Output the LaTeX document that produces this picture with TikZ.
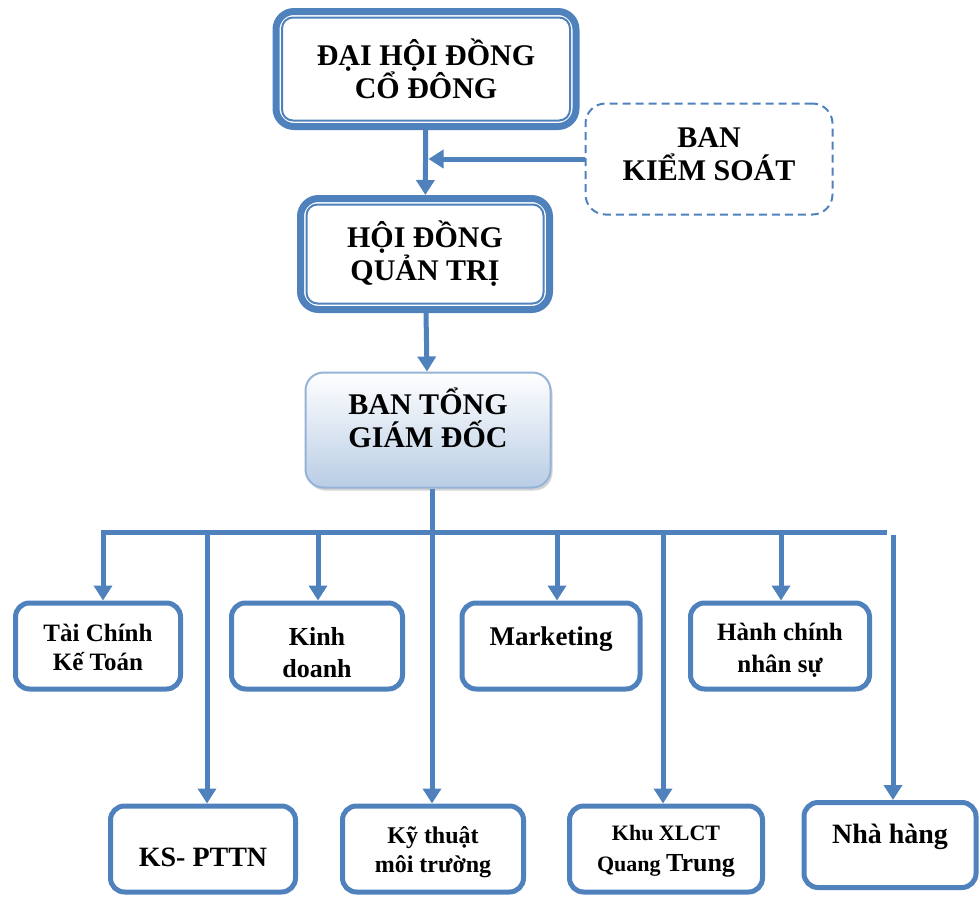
\documentclass[tikz,border=0pt]{standalone}
\usepackage{fontspec}
\setmainfont{Liberation Serif}
\usetikzlibrary{arrows.meta,positioning,shadows}
\definecolor{bline}{RGB}{79,129,189}
\definecolor{gfill}{RGB}{185,205,229}
\definecolor{gline}{RGB}{149,179,215}
\tikzset{
  board/.style={draw=bline, line width=7pt, rounded corners=18pt, align=center,
    font=\bfseries\fontsize{30}{33}\selectfont},
  innerline/.style={draw=bline, line width=2pt, rounded corners=11pt},
  unit/.style={draw=bline, line width=5pt, rounded corners=14pt, align=center,
    minimum height=86pt, font=\bfseries\fontsize{25}{30}\selectfont},
  link/.style={draw=bline, line width=5pt},
  arr/.style={link, -{Triangle[width=18pt,length=15pt]}},
}
\begin{document}
\begin{tikzpicture}[x=1pt,y=-1pt]
  \useasboundingbox (0,0) rectangle (980,897);
  % top of the chart
  \node[board, minimum width=300pt, minimum height=115pt] (dhd) at (426,69) {ĐẠI HỘI ĐỒNG\\CỔ ĐÔNG};
  \node[draw=bline, line width=2pt, dash pattern=on 8pt off 5pt, rounded corners=20pt,
    minimum width=247pt, minimum height=111pt, align=center, text depth=10pt,
    font=\bfseries\fontsize{30}{33}\selectfont] (bks) at (709,159) {BAN\\KIỂM SOÁT};
  \node[board, minimum width=249pt, minimum height=111pt] (hdqt) at (425,254) {HỘI ĐỒNG\\QUẢN TRỊ};
  \node[draw=gline, line width=2pt, rounded corners=18pt, top color=white, bottom color=gfill,
    drop shadow={shadow xshift=2pt, shadow yshift=-3pt, opacity=0.35},
    minimum width=245pt, minimum height=115pt, align=center, text depth=25pt,
    font=\bfseries\fontsize{30}{33}\selectfont] (btgd) at (428,430) {BAN TỔNG\\GIÁM ĐỐC};
  \draw[innerline] ([shift={(9.5pt,-9.5pt)}]dhd.north west) rectangle ([shift={(-9.5pt,9.5pt)}]dhd.south east);
  \draw[innerline] ([shift={(9.5pt,-9.5pt)}]hdqt.north west) rectangle ([shift={(-9.5pt,9.5pt)}]hdqt.south east);
  % departments
  \node[unit, minimum width=165pt, font=\bfseries\fontsize{25}{29}\selectfont, text height=50pt] (tck) at (98,646) {Tài Chính\\Kế Toán};
  \node[unit, minimum width=171pt, font=\bfseries\fontsize{26}{32}\selectfont, text height=64pt] (kd) at (317,646) {Kinh\\doanh};
  \node[unit, minimum width=178pt, font=\bfseries\fontsize{27}{30}\selectfont, text depth=20pt] (mkt) at (551,646) {Marketing};
  \node[unit, minimum width=179pt, font=\bfseries\fontsize{25}{32}\selectfont, text height=57pt] (hcns) at (780,646) {Hành chính\\nhân sự};
  \node[unit, minimum width=185pt, font=\bfseries\fontsize{28}{30}\selectfont, text height=36pt] (ks) at (203,849) {KS- PTTN};
  \node[unit, minimum width=181pt, font=\bfseries\fontsize{24}{29}\selectfont, text height=52pt] (ktmt) at (433,849) {Kỹ thuật\\môi trường};
  \node[unit, minimum width=193pt, font=\bfseries\fontsize{22}{31}\selectfont, text height=51pt] (khu) at (666,849) {Khu XLCT\\Quang {\fontsize{26}{31}\selectfont Trung}};
  \node[unit, minimum width=172pt, minimum height=85pt, font=\bfseries\fontsize{28}{30}\selectfont, text depth=22pt] (nh) at (890,845) {Nhà hàng};
  % connectors
  \coordinate (jbks) at (dhd.south |- bks.west);
  \coordinate (bus) at (432,532);
  \coordinate (busr) at (884,532);
  \coordinate (nhs) at (893,535);
  \draw[arr] (dhd) -- (hdqt);
  \draw[arr, shorten >=2.5pt] (bks) -- (jbks);
  \draw[arr] (hdqt) -- (btgd);
  \draw[link] (bus |- btgd.south) -- (bus);
  \draw[link, line cap=rect] ([xshift=5pt]tck.north |- bus) -- (busr);
  \foreach \u/\dx in {tck/5,ks/4,kd/1,ktmt/-1,mkt/6,khu/-3,hcns/1}
    \draw[arr] ([xshift=\dx pt]\u.north |- bus) -- ([xshift=\dx pt]\u.north);
  \draw[arr] (nhs) -- (nhs |- nh.north);
\end{tikzpicture}
\end{document}
